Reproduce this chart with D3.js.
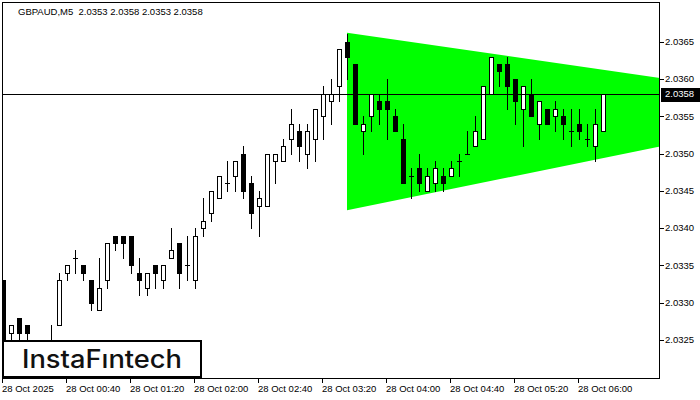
<html>
<head>
  <script src="https://d3js.org/d3.v7.min.js"></script>
  <style>
  body { margin: 0; background: white; }
  .lbl { font-family: "Liberation Sans", Arial, sans-serif; font-size: 9.5px; fill: black; }
  .wick { stroke: black; stroke-width: 1px; shape-rendering: crispEdges; }
  .body { stroke: black; stroke-width: 1px; shape-rendering: crispEdges; }
  </style>
</head>
<body>
  <svg id="chart" width="700" height="400"></svg>
  <script>
// GBPAUD M5 candles, one every 5 minutes from 28 Oct 00:00
const opens  = [2.0333,2.0326,2.0328,2.0327,2.0324,2.0323,2.0324,2.0327,2.0334,2.0336,
                2.0335,2.0333,2.0329,2.0333,2.0339,2.0339,2.0339,2.0334,2.0332,2.0335,
                2.0333,2.0336,2.0338,2.0335,2.0333,2.0340,2.0342,2.0344,2.0346,2.0347,
                2.0350,2.0346,2.0343,2.0343,2.0349,2.0349,2.0352,2.0353,2.0350,2.0352,
                2.0355,2.0357,2.0359,2.0365,2.0362,2.0353,2.0355,2.0357,2.0357,2.0355,
                2.0352,2.0347,2.0348,2.0345,2.0346,2.0347,2.0347,2.0349,2.0350,2.0351,
                2.0352,2.0358,2.0362,2.0362,2.0360,2.0356,2.0358,2.0354,2.0356,2.0355,
                2.0355,2.0353,2.0354,2.0352,2.0351,2.0353];
const highs  = [2.0333,2.0327,2.0328,2.0327,2.0324,2.0324,2.0327,2.0334,2.0335,2.0337,
                2.0335,2.0333,2.0336,2.0338,2.0339,2.0339,2.0339,2.0336,2.0334,2.0335,
                2.0335,2.0340,2.0338,2.0339,2.0340,2.0344,2.0345,2.0347,2.0349,2.0349,
                2.0351,2.0347,2.0345,2.0350,2.0350,2.0352,2.0356,2.0354,2.0354,2.0356,
                2.0359,2.0360,2.0364,2.0366,2.0362,2.0355,2.0358,2.0358,2.0360,2.0356,
                2.0354,2.0348,2.0350,2.0348,2.0349,2.0348,2.0349,2.0350,2.0353,2.0355,
                2.0359,2.0363,2.0362,2.0363,2.0360,2.0359,2.0360,2.0357,2.0356,2.0357,
                2.0356,2.0356,2.0356,2.0354,2.0356,2.0358];
const lows   = [2.0322,2.0323,2.0324,2.0323,2.0322,2.0321,2.0323,2.0327,2.0333,2.0334,
                2.0333,2.0329,2.0329,2.0332,2.0337,2.0336,2.0334,2.0331,2.0331,2.0332,
                2.0332,2.0336,2.0332,2.0333,2.0332,2.0339,2.0341,2.0344,2.0345,2.0345,
                2.0344,2.0340,2.0339,2.0343,2.0346,2.0349,2.0350,2.0349,2.0348,2.0349,
                2.0352,2.0354,2.0357,2.0360,2.0354,2.0350,2.0353,2.0354,2.0352,2.0353,
                2.0346,2.0344,2.0345,2.0345,2.0345,2.0345,2.0347,2.0347,2.0350,2.0351,
                2.0352,2.0358,2.0359,2.0356,2.0354,2.0351,2.0355,2.0352,2.0354,2.0353,
                2.0352,2.0351,2.0352,2.0351,2.0349,2.0353];
const closes = [2.0323,2.0327,2.0326,2.0326,2.0323,2.0324,2.0324,2.0333,2.0335,2.0336,
                2.0334,2.0330,2.0332,2.0338,2.0338,2.0338,2.0335,2.0333,2.0334,2.0334,
                2.0335,2.0337,2.0334,2.0335,2.0339,2.0341,2.0345,2.0347,2.0346,2.0349,
                2.0345,2.0342,2.0344,2.0350,2.0350,2.0351,2.0354,2.0351,2.0353,2.0356,
                2.0358,2.0358,2.0364,2.0363,2.0354,2.0354,2.0358,2.0356,2.0356,2.0353,
                2.0346,2.0347,2.0346,2.0347,2.0348,2.0346,2.0348,2.0349,2.0350,2.0353,
                2.0359,2.0363,2.0361,2.0359,2.0357,2.0359,2.0355,2.0357,2.0354,2.0356,
                2.0354,2.0353,2.0353,2.0352,2.0354,2.0358];

const priceTicks = [2.0325,2.0330,2.0335,2.0340,2.0345,2.0350,2.0355,2.0360,2.0365];
const timeTicks  = [0,40,80,120,160,200,240,280,320,360];   // minutes after 00:00
const timeLabels = ["28 Oct 2025","28 Oct 00:40","28 Oct 01:20","28 Oct 02:00","28 Oct 02:40",
                    "28 Oct 03:20","28 Oct 04:00","28 Oct 04:40","28 Oct 05:20","28 Oct 06:00"];

// symmetrical triangle pattern: [minute, price]
const triangle = [[215,2.03662],[534,2.03563],[215,2.03424]];
const lastPrice = 2.0358;
const title = "GBPAUD,M5  2.0353 2.0358 2.0353 2.0358";

const svg = d3.select("#chart");
const pLeft = 3, pRight = 660, pTop = 3, pBottom = 379;

const x = d3.scaleLinear().domain([0, (pRight - pLeft) / 1.6]).range([pLeft, pRight]);
const y = d3.scaleLinear().domain([2.0325, 2.0365]).range([340, 41.6]);

svg.append("clipPath").attr("id","plot")
  .append("rect").attr("x",pLeft).attr("y",pTop).attr("width",pRight-pLeft).attr("height",pBottom-pTop);

const plot = svg.append("g").attr("clip-path","url(#plot)");

plot.append("polygon")
  .attr("points", triangle.map(d => x(d[0]) + "," + y(d[1])).join(" "))
  .attr("fill", "#00ff00");

const candles = opens.map((o,i) => ({t: i*5, o: o, h: highs[i], l: lows[i], c: closes[i]}));

const cg = plot.selectAll("g.candle").data(candles).enter().append("g").attr("class","candle");
cg.append("line").attr("class","wick")
  .attr("x1", d => Math.round(x(d.t)) + 0.5).attr("x2", d => Math.round(x(d.t)) + 0.5)
  .attr("y1", d => Math.round(y(d.h))).attr("y2", d => Math.round(y(d.l)) + 1);
cg.filter(d => d.o != d.c).append("rect").attr("class","body")
  .attr("x", d => Math.round(x(d.t)) - 1.5)
  .attr("y", d => Math.round(y(Math.max(d.o,d.c))) + 0.5)
  .attr("width", 4)
  .attr("height", d => Math.round(y(Math.min(d.o,d.c))) - Math.round(y(Math.max(d.o,d.c))))
  .attr("fill", d => d.c > d.o ? "white" : "black");
cg.filter(d => d.o == d.c).append("line").attr("class","wick")
  .attr("x1", d => Math.round(x(d.t)) - 2).attr("x2", d => Math.round(x(d.t)) + 3)
  .attr("y1", d => Math.round(y(d.o)) + 0.5).attr("y2", d => Math.round(y(d.o)) + 0.5);

// current price line
plot.append("line").attr("class","wick")
  .attr("x1", pLeft).attr("x2", pRight)
  .attr("y1", Math.round(y(lastPrice)) + 0.5).attr("y2", Math.round(y(lastPrice)) + 0.5);

// frame
svg.append("rect").attr("x", pLeft - 0.5).attr("y", pTop - 0.5)
  .attr("width", pRight - pLeft).attr("height", pBottom - pTop)
  .attr("fill","none").attr("stroke","black").attr("shape-rendering","crispEdges");

// price axis
const pa = svg.append("g");
pa.selectAll("line").data(priceTicks).enter().append("line").attr("class","wick")
  .attr("x1", pRight).attr("x2", pRight + 4)
  .attr("y1", d => Math.round(y(d)) + 0.5).attr("y2", d => Math.round(y(d)) + 0.5);
pa.selectAll("text").data(priceTicks).enter().append("text").attr("class","lbl")
  .attr("x", pRight + 5).attr("y", d => y(d)).attr("dy","0.35em")
  .text(d => d.toFixed(4));

pa.append("rect").attr("x", pRight + 1).attr("y", Math.round(y(lastPrice)) - 6)
  .attr("width", 39).attr("height", 14).attr("fill","black");
pa.append("text").attr("class","lbl").style("fill","white")
  .attr("x", pRight + 5).attr("y", y(lastPrice)).attr("dy","0.35em")
  .text(lastPrice.toFixed(4));

// time axis
const ta = svg.append("g");
ta.selectAll("line").data(timeTicks).enter().append("line").attr("class","wick")
  .attr("x1", d => Math.round(x(d)) - 0.5).attr("x2", d => Math.round(x(d)) - 0.5)
  .attr("y1", pBottom).attr("y2", pBottom + 4);
ta.selectAll("text").data(timeTicks).enter().append("text").attr("class","lbl")
  .attr("x", d => x(d) - 1).attr("y", 392)
  .text((d,i) => timeLabels[i]);

// title
svg.append("text").attr("class","lbl").attr("x", 18).attr("y", 15)
  .style("white-space","pre").text(title);

// logo
svg.append("rect").attr("x", 3).attr("y", 341).attr("width", 198).attr("height", 36)
  .attr("fill","white").attr("stroke","black").attr("stroke-width", 2);
svg.append("text").attr("x", 22).attr("y", 368)
  .attr("textLength", 160).attr("lengthAdjust","spacingAndGlyphs")
  .style("font-family","Inter, Lato, sans-serif").style("font-size","25px")
  .style("font-weight", 500).style("fill","#111")
  .text("InstaFıntech");
  </script>
</body>
</html>
